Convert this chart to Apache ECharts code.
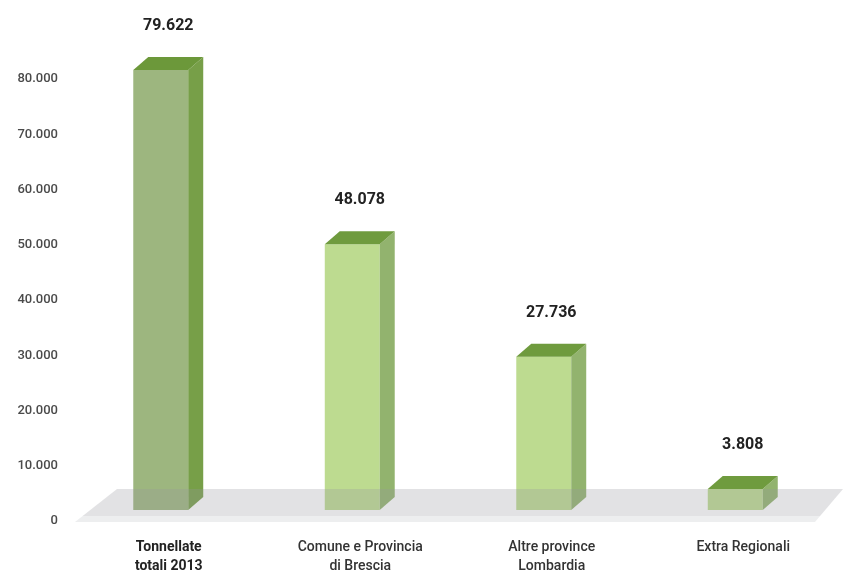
<!DOCTYPE html>
<html>
<head>
<meta charset="utf-8">
<script src="https://cdn.jsdelivr.net/npm/echarts@6/dist/echarts.min.js"></script>
<style>html,body{margin:0;padding:0;background:#fff}#c{width:844px;height:576px}</style>
</head>
<body>
<div id="c"></div>
<script>
const categories = ['Tonnellate\ntotali 2013', 'Comune e Provincia\ndi Brescia', 'Altre province\nLombardia', 'Extra Regionali'];
const values = [79622, 48078, 27736, 3808];
const valueLabels = ['79.622', '48.078', '27.736', '3.808'];
const yTickLabels = ['0', '10.000', '20.000', '30.000', '40.000', '50.000', '60.000', '70.000', '80.000'];

const FONT = 'Roboto, "Liberation Sans", sans-serif';
const DX = 15, DY = 13, LIFT = 11;
const styleDark = { front: '#9db67f', side: '#779f48', top: '#6c983a' };
const styleLight = { front: '#bddb90', side: '#92b36e', top: '#6f9b3e' };

function renderFloor(params, api) {
  const cs = params.coordSys;
  const base = api.coord([0, 0])[1];
  const left = cs.x, right = cs.x + cs.width;
  const yBack = base - 32, yMid = base - 5, yFront = base + 1;
  const lx = function (y) { return left + 10 + (yFront - y) / (yFront - yBack) * 42; };
  const rx = function (y) { return right - 16 + (yFront - y) / (yFront - yBack) * 28; };
  return {
    type: 'group',
    children: [
      { type: 'polygon', shape: { points: [[lx(yBack), yBack], [rx(yBack), yBack], [rx(yMid), yMid], [lx(yMid), yMid]] },
        style: { fill: 'rgba(150,152,158,0.28)' } },
      { type: 'polygon', shape: { points: [[lx(yMid), yMid], [rx(yMid), yMid], [rx(yFront), yFront], [lx(yFront), yFront]] },
        style: { fill: 'rgba(150,152,158,0.17)' } }
    ]
  };
}

function renderBar(params, api) {
  const i = api.value(0), v = api.value(1);
  const top = api.coord([i, v]);
  const base = api.coord([i, 0]);
  const w = api.size([1, 0])[0] * 0.287;
  const x0 = top[0] - w / 2, x1 = top[0] + w / 2;
  const yT = top[1] - LIFT, yB = base[1] - LIFT;
  const s = i === 0 ? styleDark : styleLight;
  return {
    type: 'group',
    children: [
      { type: 'rect', shape: { x: x0, y: yT, width: w, height: yB - yT }, style: { fill: s.front } },
      { type: 'polygon', shape: { points: [[x1, yT], [x1 + DX, yT - DY], [x1 + DX, yB - DY], [x1, yB]] }, style: { fill: s.side } },
      { type: 'polygon', shape: { points: [[x0, yT], [x0 + DX, yT - DY], [x1 + DX, yT - DY], [x1, yT]] }, style: { fill: s.top } },
      { type: 'text', x: top[0] + DX / 2, y: yT - DY - 31,
        style: { text: valueLabels[i], fill: '#222', font: 'bold 16px ' + FONT, align: 'center', verticalAlign: 'middle' } }
    ]
  };
}

const chart = echarts.init(document.getElementById('c'));
chart.setOption({
  animation: false,
  backgroundColor: '#fff',
  grid: { left: 65, right: 13, top: 79, bottom: 51 },
  xAxis: {
    type: 'category',
    data: categories,
    axisLine: { show: false },
    axisTick: { show: false },
    axisLabel: {
      margin: 17,
      padding: [0, 0, 0, 16],
      fontFamily: FONT,
      fontSize: 14,
      fontWeight: 500,
      lineHeight: 19,
      color: '#333',
      formatter: function (val, idx) {
        if (idx === 0) return val.split('\n').map(function (l) { return '{b|' + l + '}'; }).join('\n');
        return val;
      },
      rich: { b: { fontWeight: 'bold', fontFamily: FONT, fontSize: 14, lineHeight: 19, color: '#222' } }
    }
  },
  yAxis: {
    type: 'value',
    min: 0, max: 80000, interval: 10000,
    axisLine: { show: false },
    axisTick: { show: false },
    splitLine: { show: false },
    axisLabel: {
      margin: 7,
      fontFamily: FONT,
      fontSize: 13,
      fontWeight: 500,
      color: '#4a4a4a',
      formatter: function (v) { return yTickLabels[Math.round(v / 10000)]; }
    }
  },
  series: [
    { type: 'custom', z: 2, renderItem: renderBar, data: values.map(function (v, i) { return [i, v]; }) },
    { type: 'custom', z: 3, renderItem: renderFloor, data: [[0, 0]], silent: true }
  ]
});
</script>
</body>
</html>
